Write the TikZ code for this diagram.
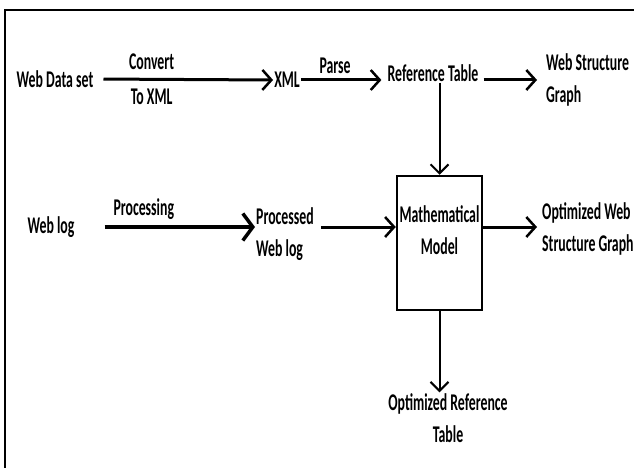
\documentclass[tikz,border=0pt]{standalone}
\usepackage{fontspec}
\setmainfont{Carlito}[FakeStretch=0.575]
\usetikzlibrary{positioning,arrows.meta}

\begin{document}
\begin{tikzpicture}[
        x=1pt, y=-1pt,
        lbl/.style={font=\fontsize{24}{32}\selectfont\bfseries, align=left, inner sep=1pt},
        flow/.style={line width=3pt, -{Straight Barb[length=9pt, width=20pt, line width=2.5pt]}},
        bigflow/.style={line width=3.5pt, -{Straight Barb[length=10pt, width=27pt, line width=3.5pt]}},
        drop/.style={line width=2pt, -{Straight Barb[length=9pt, width=18pt, line width=2pt]}},
        modelbox/.style={draw, line width=2.5pt, minimum width=85pt, minimum height=134pt}
    ]
    \useasboundingbox (0,0) rectangle (634,468);
    % khung ngoai
    \draw[line width=2pt] (640,10) -- (5,10) -- (5,475);

    % hang tren
    \node[lbl] (wds) at (55,79) {Web Data set};
    \node[lbl] (xml) at (287,80) {XML};
    \node[lbl] (rt) at (433,73) {Reference Table};
    \node[lbl, anchor=west] (wsg) at (545,80) {Web Structure\\Graph};

    % hang duoi
    \node[lbl] (wl) at (51,227) {Web log};
    \node[lbl, anchor=west] (pwl) at (255,234) {Processed\\Web log};
    \node[modelbox, label={[lbl, align=center, yshift=13pt]center:{Mathematical\\Model}}] (mm) at (439.5,243) {};
    \node[lbl, anchor=west] (owsg) at (541,229) {Optimized Web\\Structure Graph};
    \node[lbl, align=center] (ort) at (448,418) {Optimized Reference\\Table};

    % mui ten
    \draw[flow, shorten <=9pt] (wds.east) -- (xml.west)
        node[lbl, pos=0.32, above=7pt] {Convert}
        node[lbl, pos=0.32, below=7pt] {To XML};
    \draw[flow, shorten >=5pt] (xml.east) -- (xml.east -| rt.west)
        node[lbl, pos=0.4, above=4pt] {Parse};
    \draw[flow, shorten <=4pt, shorten >=8pt] (rt.east |- wsg.west) -- (wsg.west);
    \draw[drop] (rt.south -| mm.north) -- (mm.north);
    \draw[bigflow, shorten <=29pt] (wl.east) -- (pwl.west |- wl.east)
        node[lbl, pos=0.38, above=5pt] {Processing};
    \draw[flow, shorten <=6pt] (pwl.east |- wl.east) -- (mm.west |- wl.east);
    \draw[flow, shorten >=4pt] (mm.east |- wl.east) -- (owsg.west |- wl.east);
    \draw[drop] (mm.south) -- (ort.north -| mm.south);
\end{tikzpicture}
\end{document}
